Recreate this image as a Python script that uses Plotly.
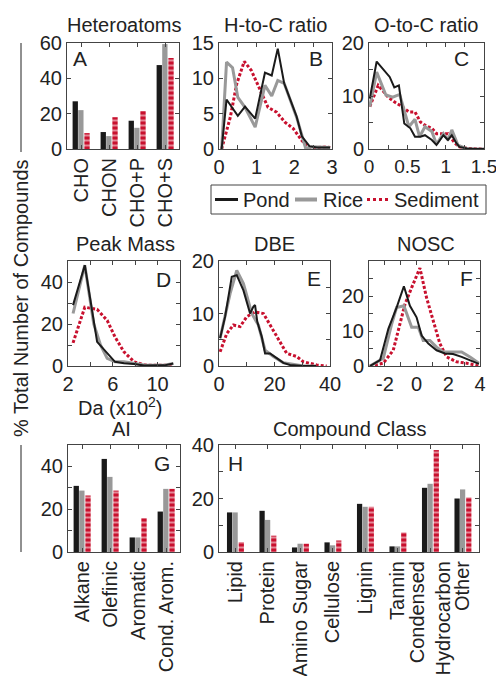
import plotly.graph_objects as go

W, H = 496, 676
FONT = "Liberation Sans, Arial, Helvetica, sans-serif"
TXT = "#222222"
FRAME = "#444444"
BLACK = "#1a1a1a"
GREY = "#999999"
RED = "#c8102e"

# ---------------- data ----------------
hetero_cats = ["CHO", "CHON", "CHO+P", "CHO+S"]
hetero_pond = [27, 9.6, 16, 47.5]
hetero_rice = [22, 7.3, 12, 59.4]
hetero_sed = [9, 18, 21.5, 51.5]

hc_pond_x = [0.07, 0.2, 0.5, 0.69, 0.96, 1.22, 1.4, 1.56, 1.73, 2.06, 2.2, 2.4, 2.6, 2.8, 2.95]
hc_pond_y = [0, 7.0, 4.7, 6.0, 4.3, 10.8, 10.4, 14.2, 9.3, 4.6, 1.8, 0.4, 0.2, 0.2, 0.2]
hc_rice_x = [0.07, 0.2, 0.36, 0.5, 0.69, 0.96, 1.22, 1.4, 1.56, 1.73, 2.06, 2.3, 2.5, 2.7, 2.95]
hc_rice_y = [0, 12.3, 11.5, 7.3, 5.9, 3.1, 9.0, 7.5, 9.7, 9.3, 4.5, 0.1, 0.3, 0.3, 0.2]
hc_sed_x = [0.07, 0.3, 0.47, 0.67, 0.86, 1.08, 1.3, 1.53, 1.75, 1.97, 2.2, 2.4, 2.6, 2.86, 2.95]
hc_sed_y = [0, 4.5, 9.2, 12.4, 11.1, 8.5, 5.9, 5.2, 3.8, 2.9, 1.2, 0.1, 0.2, 0.3, 0.2]

oc_pond_x = [0.01, 0.1, 0.27, 0.33, 0.39, 0.46, 0.54, 0.6, 0.67, 0.73, 0.82, 0.88, 0.97, 1.03, 1.08, 1.14, 1.18, 1.28, 1.39, 1.5]
oc_pond_y = [9.5, 16.5, 13.6, 11.6, 12.0, 4.8, 3.9, 2.3, 2.3, 2.6, 1.7, 0.75, 2.6, 1.7, 2.6, 1.1, 0.4, 0.1, 0, 0]
oc_rice_x = [0.01, 0.1, 0.22, 0.31, 0.4, 0.47, 0.52, 0.6, 0.66, 0.73, 0.82, 0.88, 0.97, 1.03, 1.08, 1.16, 1.28, 1.5]
oc_rice_y = [8, 14.5, 10.2, 9.8, 10.3, 6.7, 4.2, 5.6, 2.3, 4.2, 3.3, 0.9, 2.9, 1.7, 3.6, 0.75, 0, 0]
oc_sed_x = [0.01, 0.12, 0.25, 0.33, 0.42, 0.52, 0.6, 0.67, 0.73, 0.82, 0.88, 0.97, 1.03, 1.12, 1.18, 1.3, 1.5]
oc_sed_y = [8, 12.0, 9.8, 8.9, 8.1, 7.0, 7.0, 5.1, 4.5, 3.9, 2.9, 2.9, 2.9, 1.1, 0.4, 0.1, 0]

mass_pond_x = [2.45, 3.5, 4.6, 5.5, 6.2, 7.0, 7.9, 8.8, 9.7, 10.6, 11.4]
mass_pond_y = [29, 48, 11.5, 6, 2, 1.3, 1, 0.2, 0.2, 0.3, 1.2]
mass_rice_x = [2.45, 3.5, 4.3, 4.9, 5.5, 6.2, 7.0, 7.9, 8.8, 9.7, 10.6, 11.4]
mass_rice_y = [25, 48, 20, 10, 3.6, 2, 2, 1.2, 0.5, 0.3, 0.4, 1.2]
mass_sed_x = [2.45, 3.5, 4.6, 5.5, 6.2, 7.0, 7.9, 8.8, 9.7, 10.6, 11.4]
mass_sed_y = [11, 28, 27, 21.7, 13.8, 6.7, 2, 0.5, 0.3, 0.3, 0.3]

dbe_pond_x = [0.4, 2.2, 4.6, 6.4, 8.8, 11.2, 12.4, 13, 13.8, 15.4, 16.6, 18.4, 20.8, 23.2, 25.6, 30.4, 35]
dbe_pond_y = [5.3, 9.4, 17, 17.3, 14.4, 10, 11.3, 11.6, 8.4, 5.6, 2.4, 2.4, 1.5, 0.6, 0.2, 0, 0]
dbe_rice_x = [0.4, 4, 6.4, 8.8, 11.8, 14.2, 16.6, 19.6, 23.2, 25.6, 30.4, 35]
dbe_rice_y = [5.3, 13.8, 18.2, 15.7, 10, 7.8, 3, 1.8, 0.6, 0.4, 0, 0]
dbe_sed_x = [0.4, 2.8, 5.2, 7.6, 10, 13, 16, 18.4, 21.4, 24.4, 28, 30.4, 35.2, 38.8]
dbe_sed_y = [2.7, 6.2, 7.8, 7.5, 9.4, 10.3, 10, 7.8, 4.9, 2.4, 1.8, 0.8, 0.2, 0]

nosc_pond_x = [-2.94, -2.3, -1.78, -1.26, -0.8, -0.42, 0, 0.32, 0.74, 1.26, 1.79, 2.3, 2.84, 3.37, 3.93]
nosc_pond_y = [0, 1.7, 10.6, 16.7, 22.8, 17.2, 13.9, 8.7, 6.4, 4.5, 3.6, 3.4, 2.6, 1.7, 0.6]
nosc_rice_x = [-2.94, -2.1, -1.57, -1.26, -0.8, -0.31, 0.11, 0.42, 0.84, 1.26, 1.68, 2.3, 2.84, 3.37, 3.93]
nosc_rice_y = [0, 2.2, 12, 16.7, 17.2, 11.1, 11.1, 7.3, 7.3, 5.4, 4, 4, 4, 2.6, 0.8]
nosc_sed_x = [-2.94, -2.1, -1.47, -1.05, -0.73, -0.31, 0.21, 0.63, 1.05, 1.47, 1.9, 2.52, 3.16, 3.93]
nosc_sed_y = [0, 0.8, 4.5, 12, 17.7, 22.4, 28, 19.5, 13, 6.4, 2.6, 1.2, 0.8, 0]

ai_cats = ["Alkane", "Olefinic", "Aromatic", "Cond. Arom."]
ai_pond = [30.9, 43.5, 6.8, 18.9]
ai_rice = [28.7, 35.1, 6.8, 29.5]
ai_sed = [26.4, 28.7, 15.8, 29.5]

cc_cats = ["Lipid", "Protein", "Amino Sugar", "Cellulose", "Lignin", "Tannin",
           "Condensed<br>Hydrocarbon", "Other"]
cc_pond = [14.8, 15.4, 1.7, 3.6, 18.0, 2.1, 24.0, 20.0]
cc_rice = [14.8, 12.0, 3.1, 2.5, 16.9, 2.1, 25.5, 23.4]
cc_sed = [3.7, 6.1, 3.1, 4.3, 16.9, 7.3, 38.1, 20.4]

series_names = ["Pond", "Rice", "Sediment"]

# ---------------- helpers ----------------
def px_x(p):
    return p / W

def px_y(p):
    return 1 - p / H

def dom_x(a, b):
    return [px_x(a), px_x(b)]

def dom_y(top, bot):
    return [px_y(bot), px_y(top)]

fig = go.Figure()

def add_lines(n, xs, ys):
    ax = "" if n == 1 else str(n)
    styles = [
        (xs[2], ys[2], dict(color=RED, width=3, dash="3px,2px")),
        (xs[1], ys[1], dict(color=GREY, width=3)),
        (xs[0], ys[0], dict(color=BLACK, width=2)),
    ]
    names = [series_names[2], series_names[1], series_names[0]]
    for (x, y, ln), nm in zip(styles, names):
        fig.add_trace(go.Scatter(x=x, y=y, mode="lines", line=ln, name=nm,
                                 showlegend=False, xaxis="x" + ax, yaxis="y" + ax,
                                 hoverinfo="skip"))

def add_bars(n, cats, vals, w):
    ax = "" if n == 1 else str(n)
    offs = [-1.5 * w, -0.5 * w, 0.5 * w + 0.02]
    for i, v in enumerate(vals):
        if i == 2:
            marker = dict(color=RED, line=dict(width=0),
                          pattern=dict(shape="-", bgcolor=RED, fgcolor="white",
                                       size=5, solidity=0.4))
        else:
            marker = dict(color=[BLACK, GREY][i], line=dict(width=0))
        fig.add_trace(go.Bar(x=cats, y=v, width=w * 0.95, offset=offs[i],
                             marker=marker, name=series_names[i], showlegend=False,
                             xaxis="x" + ax, yaxis="y" + ax, hoverinfo="skip"))

add_bars(1, hetero_cats, [hetero_pond, hetero_rice, hetero_sed], 0.2)
add_lines(2, [hc_pond_x, hc_rice_x, hc_sed_x], [hc_pond_y, hc_rice_y, hc_sed_y])
add_lines(3, [oc_pond_x, oc_rice_x, oc_sed_x], [oc_pond_y, oc_rice_y, oc_sed_y])
add_lines(4, [mass_pond_x, mass_rice_x, mass_sed_x], [mass_pond_y, mass_rice_y, mass_sed_y])
add_lines(5, [dbe_pond_x, dbe_rice_x, dbe_sed_x], [dbe_pond_y, dbe_rice_y, dbe_sed_y])
add_lines(6, [nosc_pond_x, nosc_rice_x, nosc_sed_x], [nosc_pond_y, nosc_rice_y, nosc_sed_y])
add_bars(7, ai_cats, [ai_pond, ai_rice, ai_sed], 0.2)
add_bars(8, cc_cats, [cc_pond, cc_rice, cc_sed], 0.17)

def axis(domain, rng=None, tickvals=None, minor=None, anchor=None, cat=False, fsize=20, **kw):
    d = dict(domain=domain, showline=True, mirror="allticks", linecolor=FRAME,
             linewidth=1, ticks="inside", ticklen=4, tickcolor=FRAME,
             tickfont=dict(size=fsize, color=TXT, family=FONT), showgrid=False,
             zeroline=False, automargin=False, anchor=anchor, fixedrange=True,
             ticklabeloverflow="allow")
    if rng is not None:
        d["range"] = rng
    if tickvals is not None:
        d["tickmode"] = "array"
        d["tickvals"] = tickvals
        d["ticktext"] = [("-" + str(abs(t)) if t < 0 else str(t)) for t in tickvals]
    if minor is not None:
        d["minor"] = dict(tickmode="array", tickvals=minor, ticks="inside",
                          ticklen=4, tickcolor=FRAME, showgrid=False)
    if cat:
        d["type"] = "category"
        d["tickangle"] = -90
    d.update(kw)
    return d

lay = {}
# A
lay["xaxis"] = axis(dom_x(67, 179), [-0.5, 3.5], anchor="y", cat=True)
lay["yaxis"] = axis(dom_y(43, 149), [0, 60], [0, 20, 40, 60], anchor="x")
# B
lay["xaxis2"] = axis(dom_x(219, 332), [0, 3], [0, 1, 2, 3], [0.5, 1.5, 2.5], anchor="y2")
lay["yaxis2"] = axis(dom_y(43, 149), [0, 15], [0, 5, 10, 15], anchor="x2")
# C
lay["xaxis3"] = axis(dom_x(369, 484), [0, 1.5], [0, 0.5, 1, 1.5], [0.25, 0.75, 1.25],
                     anchor="y3", fsize=19)
lay["yaxis3"] = axis(dom_y(43, 149), [0, 20], [0, 10, 20], [5, 15], anchor="x3")
# D
lay["xaxis4"] = axis(dom_x(68, 180), [2, 12], [2, 6, 10], [4, 8, 12], anchor="y4")
lay["yaxis4"] = axis(dom_y(261, 366), [0, 50], [0, 20, 40], [10, 30, 50], anchor="x4")
# E
lay["xaxis5"] = axis(dom_x(219, 330), [0, 40], [0, 20, 40], [10, 30], anchor="y5")
lay["yaxis5"] = axis(dom_y(261, 366), [0, 20], [0, 10, 20], [5, 15], anchor="x5")
# F
lay["xaxis6"] = axis(dom_x(369, 480), [-3, 4], [-2, 0, 2, 4], [-1, 1, 3], anchor="y6")
lay["yaxis6"] = axis(dom_y(261, 366), [0, 30], [0, 10, 20], [5, 15, 25, 30], anchor="x6")
# G
lay["xaxis7"] = axis(dom_x(68, 180), [-0.5, 3.5], anchor="y7", cat=True)
lay["yaxis7"] = axis(dom_y(445, 552), [0, 50], [0, 20, 40], [10, 30, 50], anchor="x7")
# H
lay["xaxis8"] = axis(dom_x(219, 479), [-0.5, 7.5], anchor="y8", cat=True)
lay["yaxis8"] = axis(dom_y(445, 552), [0, 40], [0, 20, 40], [10, 30], anchor="x8")

fig.update_layout(**lay)

annotations = []

def text(x, y, s, size=20, xanchor="center", yanchor="middle", angle=0):
    annotations.append(dict(x=px_x(x), y=px_y(y), xref="paper", yref="paper",
                            text=s, showarrow=False, xanchor=xanchor, yanchor=yanchor,
                            textangle=angle,
                            font=dict(size=size, color=TXT, family=FONT)))

# panel titles
text(124, 25, "Heteroatoms")
text(275, 25, "H-to-C ratio")
text(426, 25, "O-to-C ratio")
text(125, 244, "Peak Mass")
text(274, 244, "DBE")
text(426, 244, "NOSC")
text(121, 429, "AI")
text(349, 429, "Compound Class")
text(120, 406, "Da (x10<sup>2</sup>)")

# panel letters
for lx, ly, s in [(80, 59, "A"), (316, 59, "B"), (461, 59, "C"),
                  (163, 279, "D"), (314, 278, "E"), (466, 278, "F"),
                  (162, 463, "G"), (235, 463, "H")]:
    text(lx, ly, s, size=21)

# global y label
text(21, 298, "% Total Number of Compounds", size=20, angle=-90)

shapes = []
shapes.append(dict(type="line", xref="paper", yref="paper", x0=px_x(21), x1=px_x(21),
                   y0=px_y(43), y1=px_y(152), line=dict(color=TXT, width=1)))
shapes.append(dict(type="line", xref="paper", yref="paper", x0=px_x(21), x1=px_x(21),
                   y0=px_y(445), y1=px_y(552), line=dict(color=TXT, width=1)))

# manual legend
shapes.append(dict(type="rect", xref="paper", yref="paper", x0=px_x(211), x1=px_x(486),
                   y0=px_y(214), y1=px_y(185), line=dict(color=FRAME, width=1),
                   fillcolor="white"))
leg_items = [(215, 238, 241, BLACK, 3, "solid"),
             (295, 317, 321, GREY, 4, "solid"),
             (367, 388, 392, RED, 3, "dot")]
for (a, b, tx, col, lw, dash), nm in zip(leg_items, series_names):
    shapes.append(dict(type="line", xref="paper", yref="paper", x0=px_x(a), x1=px_x(b),
                       y0=px_y(199.5), y1=px_y(199.5), line=dict(color=col, width=lw, dash=dash)))
    text(tx, 200, nm, size=20, xanchor="left")

fig.update_layout(
    width=W, height=H,
    margin=dict(l=0, r=0, t=0, b=0),
    paper_bgcolor="white", plot_bgcolor="white",
    barmode="overlay",
    showlegend=False,
    annotations=annotations, shapes=shapes,
    font=dict(family=FONT, color=TXT),
)

fig.write_html("out.html")
